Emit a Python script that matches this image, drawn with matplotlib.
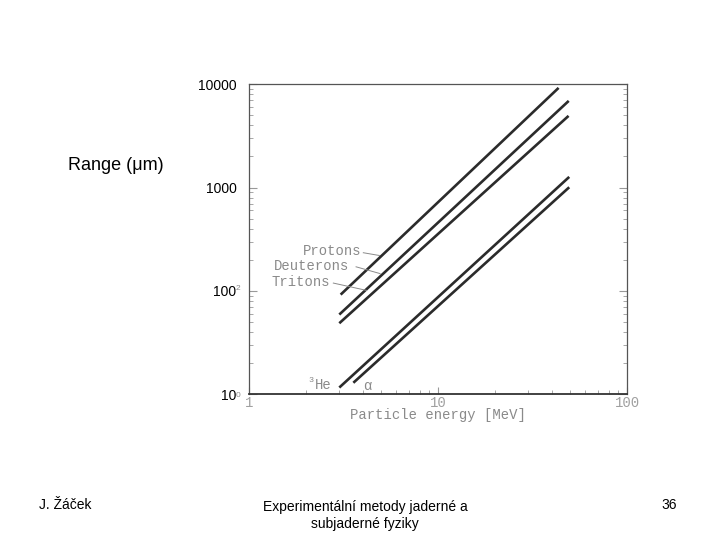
import numpy as np
import matplotlib.pyplot as plt

# range-energy curves (start, end points)
particles = ["Protons", "Deuterons", "Tritons", "3He", "alpha"]
energy_start = [3.05, 3.0, 3.0, 3.0, 3.56]       # MeV
energy_end = [43.4, 49.1, 49.0, 49.4, 49.4]
range_start = [92, 59, 48.6, 11.6, 12.9]         # um
range_end = [9220, 6900, 4940, 1268, 1007]

ytick_vals = [10, 100, 1000, 10000]
ytick_text = ["10", "100", "1000", "10000"]
xtick_vals = [1, 10, 100]
xtick_text = ["1", "10", "100"]

plt.rcParams["font.family"] = ["Liberation Sans", "DejaVu Sans"]

fig = plt.figure(figsize=(7.2, 5.4), dpi=100)
ax = fig.add_axes([0.346, 0.270, 0.525, 0.574])

line_col = "#2b2b2b"
scan_grey = "#8a8a8a"
scan_font = ["Liberation Mono", "DejaVu Sans Mono"]

for e0, e1, r0, r1 in zip(energy_start, energy_end, range_start, range_end):
    ax.plot([e0, e1], [r0, r1], color=line_col, lw=1.9, solid_capstyle="butt")

ax.set_xscale("log")
ax.set_yscale("log")
ax.set_xlim(1, 100)
ax.set_ylim(10, 10000)

for s in ax.spines.values():
    s.set_color("#555555")
    s.set_linewidth(0.9)
ax.spines["bottom"].set_color("#333333")
ax.spines["bottom"].set_linewidth(1.3)

ax.set_yticks(ytick_vals)
ax.set_yticklabels(ytick_text, fontsize=10, color="black")
ax.set_xticks(xtick_vals)
ax.set_xticklabels(xtick_text, fontsize=10, color="#a0a0a0",
                   family=scan_font)
ax.tick_params(axis="y", which="both", direction="in", left=True, right=True,
               color="#999999", pad=9)
ax.tick_params(axis="y", which="major", length=6)
ax.tick_params(axis="y", which="minor", length=3)
ax.tick_params(axis="x", which="both", direction="in", bottom=True, top=False,
               color="#999999", pad=1)
ax.tick_params(axis="x", which="major", length=5)
ax.tick_params(axis="x", which="minor", length=3)
ax.set_xlabel("Particle energy [MeV]", fontsize=10, color=scan_grey,
              family=scan_font, labelpad=-1)

# particle labels with leader marks
lab_kw = dict(fontsize=10, color=scan_grey, family=scan_font)
ax.text(3.94, 244, "Protons", ha="right", va="center", **lab_kw)
ax.text(3.39, 173, "Deuterons", ha="right", va="center", **lab_kw)
ax.text(2.68, 122, "Tritons", ha="right", va="center", **lab_kw)
ax.text(2.73, 12.3, "He", ha="right", va="center", **lab_kw)
ax.text(2.18, 13.6, "3", ha="right", va="center", fontsize=6,
        color=scan_grey, family=scan_font)
ax.text(4.0, 12.1, "\u03b1", ha="left", va="center", **lab_kw)
ax.plot([4.02, 4.89], [234, 220], color=scan_grey, lw=0.7)
ax.plot([3.68, 4.93], [171, 147], color=scan_grey, lw=0.7)
ax.plot([2.79, 4.19], [119, 101], color=scan_grey, lw=0.7)

# scan leftovers next to the pasted tick labels
fig.text(0.327, 0.463, "2", fontsize=6, color=scan_grey)
fig.text(0.327, 0.265, "0", fontsize=6, color=scan_grey)

fig.text(0.094, 0.685, "Range (\u03bcm)", fontsize=13, color="black")

fig.text(0.054, 0.057, "J. Žáček", fontsize=10)
fig.text(0.507, 0.045, "Experimentální metody jaderné a\nsubjaderné fyziky",
         fontsize=10, ha="center", va="center", linespacing=1.3)
fig.text(0.94, 0.057, "36", fontsize=10, ha="right")

fig.savefig("out.png", dpi=100)
